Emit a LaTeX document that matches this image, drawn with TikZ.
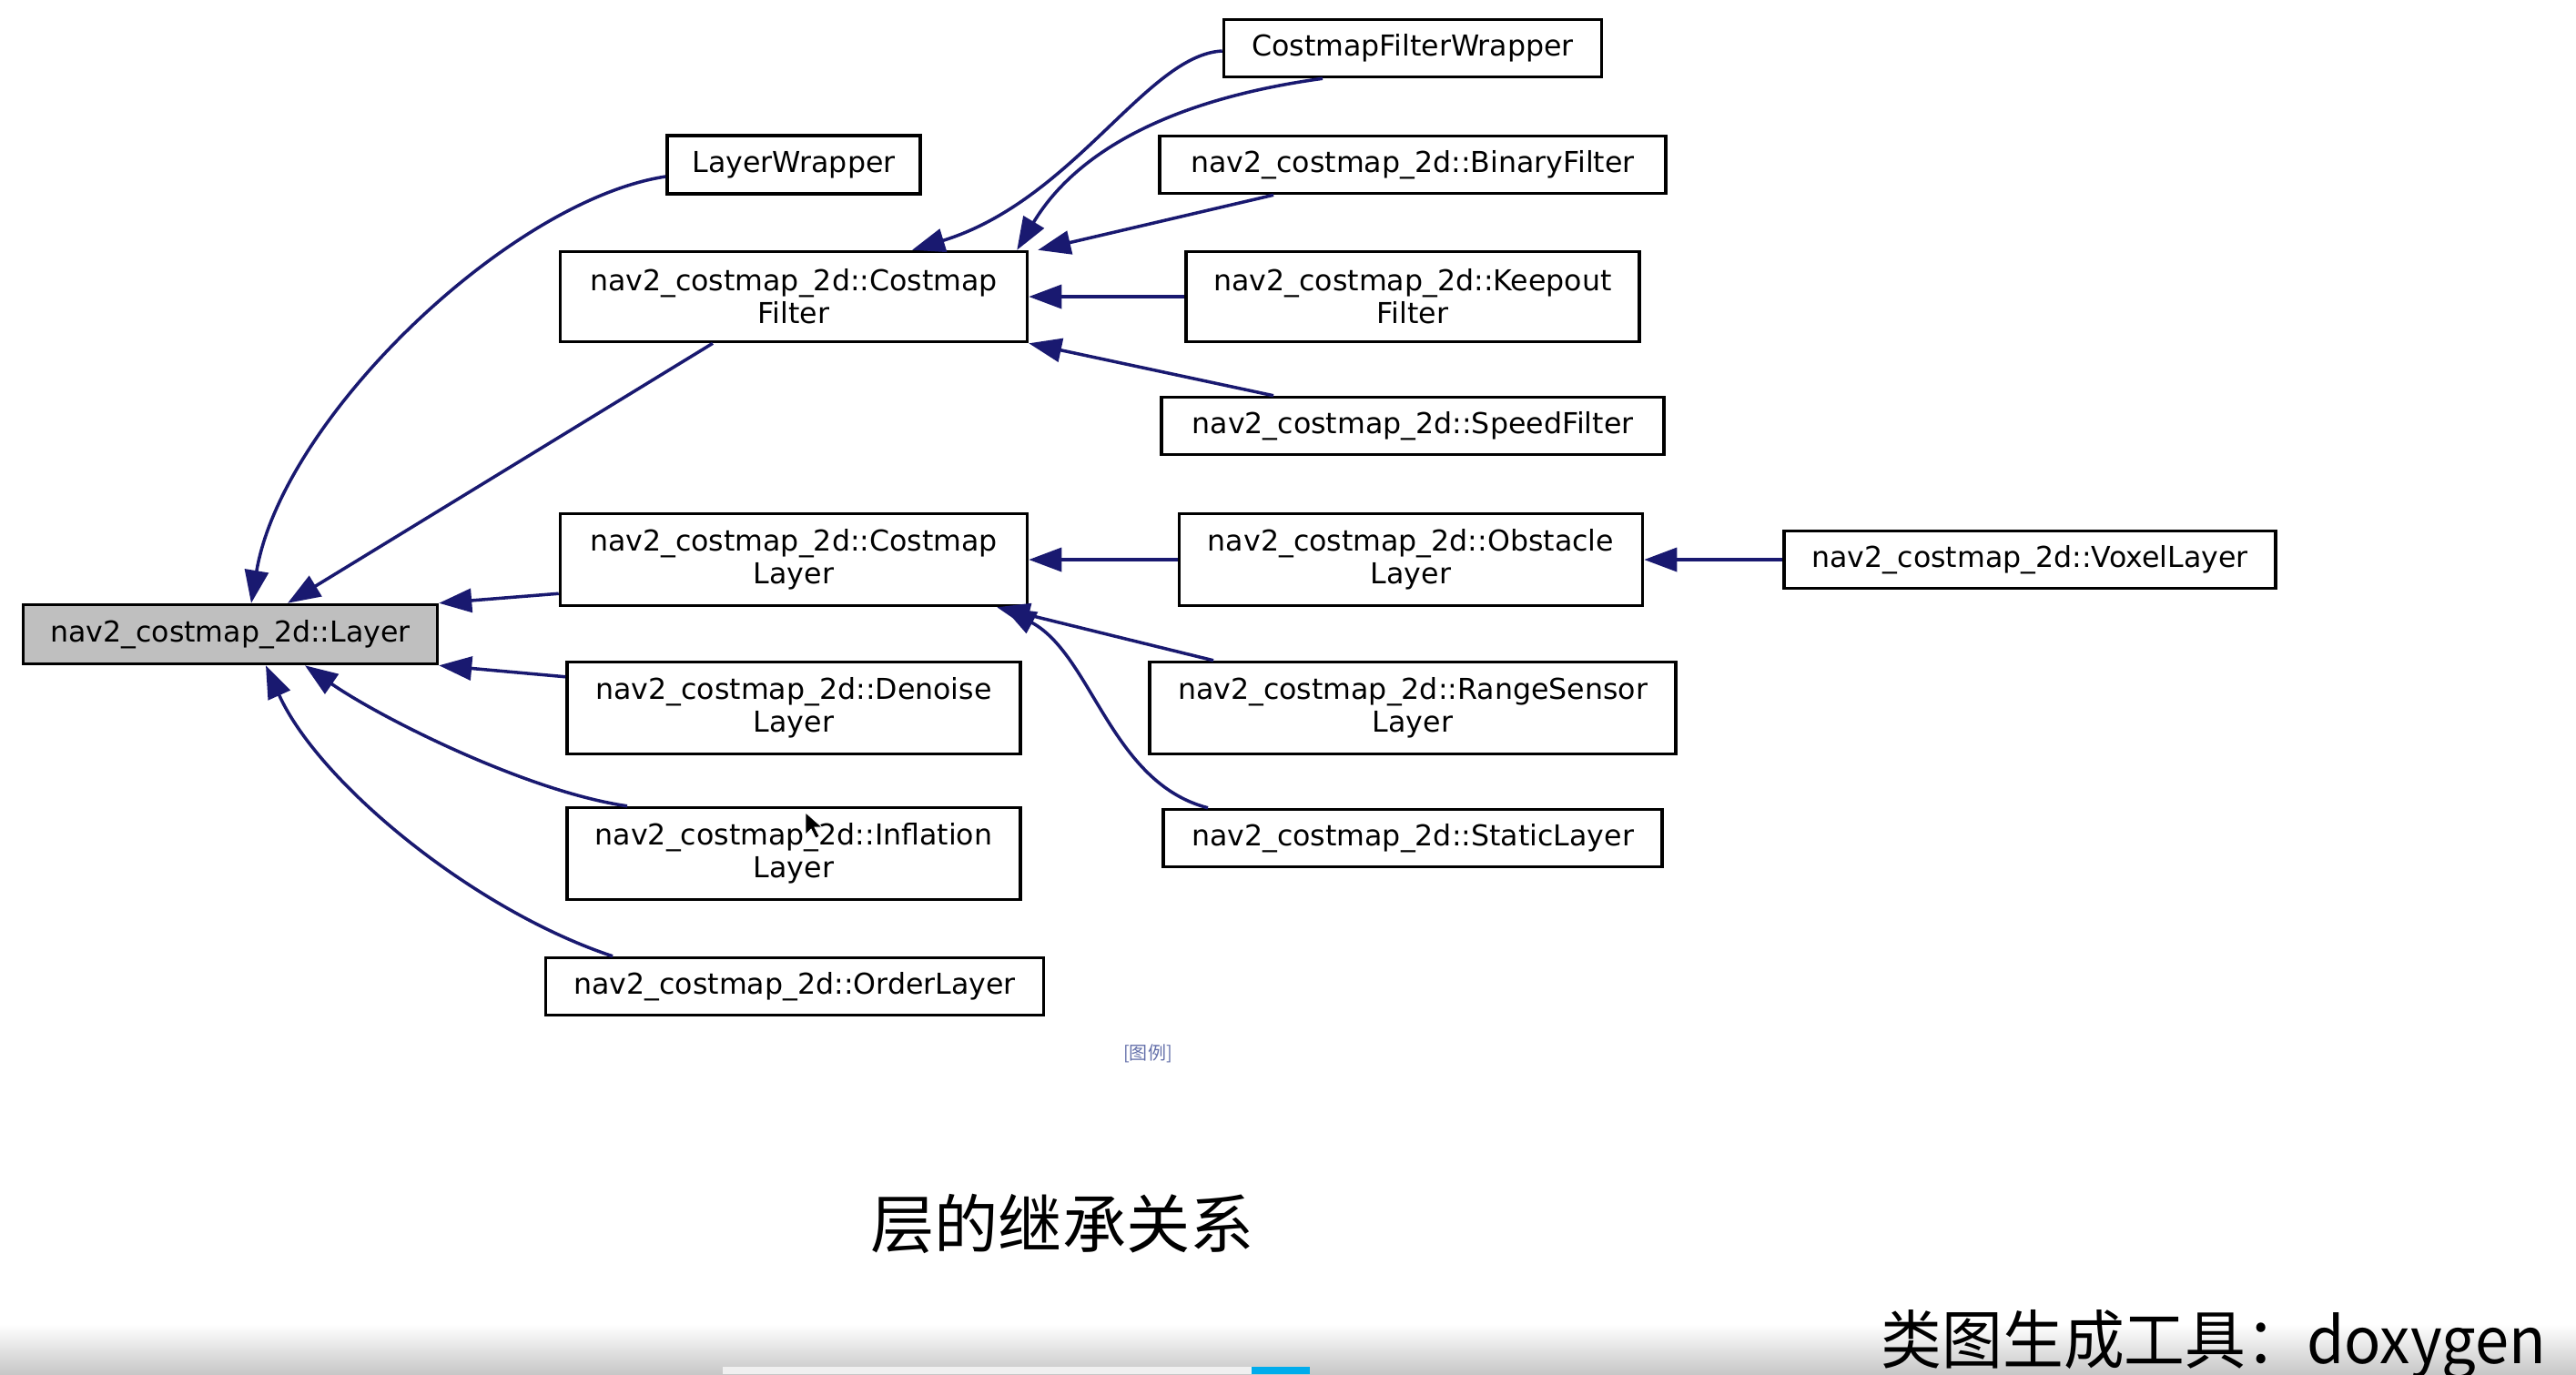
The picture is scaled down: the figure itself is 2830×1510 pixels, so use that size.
\documentclass[tikz,border=0pt]{standalone}
\usepackage{fontspec}
\setmainfont{DejaVu Sans}
\newfontfamily\cjk{Noto Sans CJK SC}
\usetikzlibrary{arrows.meta}
\definecolor{edgeblue}{RGB}{25,25,112}
\definecolor{legendblue}{RGB}{100,112,170}
\definecolor{barblue}{RGB}{0,172,236}

\begin{document}
\begin{tikzpicture}[x=0.1mm,y=-0.1mm,
  cls/.style={draw,line width=1pt,fill=white,inner sep=0pt,align=center,
    font=\fontsize{9}{10.2}\selectfont},
  inh/.style={draw=edgeblue,line width=1pt,-{Triangle[length=3.6mm,width=2.6mm]}}]
  \useasboundingbox (0,0) rectangle (2830,1510);
  \fill[white] (0,0) rectangle (2830,1510);

  % Bottom bar of the player
  \shade[top color=white,bottom color=black!22] (0,1455) rectangle (2830,1510);
  \fill[black!6] (794,1502) rectangle (1380,1510);
  \fill[barblue] (1375,1502) rectangle (1439,1510);

  % Base class
  \node[cls,fill=black!25,minimum width=45.5mm,minimum height=6.5mm] (layer) at (253,697) {nav2\_costmap\_2d::Layer};

  % Direct children
  \node[cls,minimum width=27.8mm,minimum height=6.4mm] (wrapper) at (872,181) {LayerWrapper};
  \node[cls,minimum width=51.3mm,minimum height=9.9mm] (cfilter) at (872,326) {nav2\_costmap\_2d::Costmap\\Filter};
  \node[cls,minimum width=51.3mm,minimum height=10.1mm] (clayer) at (872,615) {nav2\_costmap\_2d::Costmap\\Layer};
  \node[cls,minimum width=49.8mm,minimum height=10.1mm] (denoise) at (872,778) {nav2\_costmap\_2d::Denoise\\Layer};
  \node[cls,minimum width=49.8mm,minimum height=10.1mm] (inflation) at (872,938) {nav2\_costmap\_2d::Inflation\\Layer};
  \node[cls,minimum width=54.7mm,minimum height=6.3mm] (order) at (873,1084) {nav2\_costmap\_2d::OrderLayer};

  % Filters
  \node[cls,minimum width=41.5mm,minimum height=6.3mm] (cfwrap) at (1552,53) {CostmapFilterWrapper};
  \node[cls,minimum width=55.6mm,minimum height=6.3mm] (binary) at (1552,181) {nav2\_costmap\_2d::BinaryFilter};
  \node[cls,minimum width=49.8mm,minimum height=9.9mm] (keepout) at (1552,326) {nav2\_costmap\_2d::Keepout\\Filter};
  \node[cls,minimum width=55.2mm,minimum height=6.3mm] (speed) at (1552,468) {nav2\_costmap\_2d::SpeedFilter};

  % Costmap layers
  \node[cls,minimum width=50.9mm,minimum height=10.1mm] (obstacle) at (1550,615) {nav2\_costmap\_2d::Obstacle\\Layer};
  \node[cls,minimum width=54.0mm,minimum height=6.3mm] (voxel) at (2230,615) {nav2\_costmap\_2d::VoxelLayer};
  \node[cls,minimum width=57.8mm,minimum height=10.1mm] (range) at (1552,778) {nav2\_costmap\_2d::RangeSensor\\Layer};
  \node[cls,minimum width=54.8mm,minimum height=6.3mm] (static) at (1552,921) {nav2\_costmap\_2d::StaticLayer};

  % Edges to Layer
  \draw[inh] ([yshift=-1.3mm]wrapper.west) .. controls (560,220) and (310,460) .. ([xshift=2.3mm]layer.north);
  \draw[inh] ([xshift=-8.9mm]cfilter.south) -- ([xshift=6.3mm]layer.north);
  \draw[inh] ([yshift=1.5mm]clayer.south west) -- (layer.north east);
  \draw[inh] ([yshift=-1.8mm]denoise.north west) -- (layer.south east);
  \draw[inh] ([xshift=-18.3mm]inflation.north) .. controls (580,870) and (420,790) .. ([xshift=8.2mm]layer.south);
  \draw[inh] ([xshift=-20mm]order.north) .. controls (520,1000) and (350,860) .. ([xshift=3.9mm]layer.south);

  % Edges to CostmapFilter
  \draw[inh] ([yshift=-0.3mm]cfwrap.west) .. controls (1260,60) and (1180,220) .. ([xshift=13mm]cfilter.north);
  \draw[inh] ([xshift=-9.9mm]cfwrap.south) .. controls (1280,110) and (1180,170) .. ([xshift=-1.3mm]cfilter.north east);
  \draw[inh] ([xshift=-15.3mm]binary.south) -- ([xshift=1mm]cfilter.north east);
  \draw[inh] (keepout.west) -- (cfilter.east);
  \draw[inh] ([xshift=-15.3mm]speed.north) -- (cfilter.south east);

  % Edges to CostmapLayer
  \draw[inh] (obstacle.west) -- (clayer.east);
  \draw[inh] (voxel.west) -- (obstacle.east);
  \draw[inh] ([xshift=-21.9mm]range.north) -- ([xshift=-3.5mm]clayer.south east);
  \draw[inh] ([xshift=-22.5mm]static.north) .. controls (1220,860) and (1200,720) .. ([xshift=-2.8mm]clayer.south east);

  % Legend link and captions
  \node[text=legendblue,font=\cjk\fontsize{5.7}{6}\selectfont] (legend) at (1261,1158) {[图例]};
  \node[font=\cjk\fontsize{20}{24}\selectfont] (title) at (1167,1345) {层的继承关系};
  \node[anchor=west,inner sep=0pt,xscale=0.95,font=\cjk\fontsize{20}{24}\selectfont] (tool) at (2066,1478) {类图生成工具：doxygen};

  % Mouse pointer
  \fill[black,draw=white,line width=0.2pt] (885,893) -- (885,917) -- (891,911) -- (896,921) -- (900,919) -- (895,909) -- (903,909) -- cycle;
\end{tikzpicture}
\end{document}
